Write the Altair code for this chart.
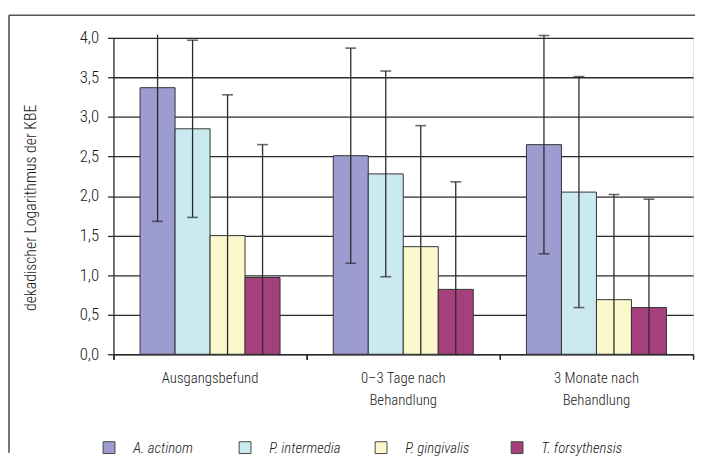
import altair as alt
import pandas as pd

categories = ["Ausgangsbefund", "0–3 Tage nach Behandlung", "3 Monate nach Behandlung"]
series = ["A. actinom", "P. intermedia", "P. gingivalis", "T. forsythensis"]
colors = ["#9c9cd0", "#cbeaf0", "#fbf8cc", "#a6407c"]

# mean values (log10 CFU) per category
mean_a_actinom = [3.37, 2.51, 2.65]
mean_p_intermedia = [2.85, 2.28, 2.05]
mean_p_gingivalis = [1.50, 1.36, 0.69]
mean_t_forsythensis = [0.97, 0.82, 0.59]

# standard deviations per category
sd_a_actinom = [1.69, 1.36, 1.38]
sd_p_intermedia = [1.12, 1.30, 1.46]
sd_p_gingivalis = [1.78, 1.53, 1.33]
sd_t_forsythensis = [1.68, 1.36, 1.37]

y_ticks = [0, 0.5, 1.0, 1.5, 2.0, 2.5, 3.0, 3.5, 4.0]
Y_MAX_VIS = 4.04

means = [mean_a_actinom, mean_p_intermedia, mean_p_gingivalis, mean_t_forsythensis]
sds = [sd_a_actinom, sd_p_intermedia, sd_p_gingivalis, sd_t_forsythensis]

rows = []
for s, m_list, sd_list in zip(series, means, sds):
    for c, m, sd in zip(categories, m_list, sd_list):
        lo = m - sd
        hi = m + sd
        rows.append({
            "category": c, "series": s, "mean": m,
            "lo": max(lo, 0.0), "hi": min(hi, Y_MAX_VIS),
            "cap_lo": lo > 0, "cap_hi": hi <= Y_MAX_VIS,
        })
df = pd.DataFrame(rows)

FONT = ("Roboto Condensed, Noto Sans Condensed, Open Sans Condensed, "
        "Liberation Sans Narrow, DejaVu Sans Condensed, sans-serif")
DARK = "#2a2a2a"
TXT = "#1a1a1a"

label_expr = ("indexof(datum.label, ' nach ') > 0 ? "
              "[replace(datum.label, ' Behandlung', ''), 'Behandlung'] : datum.label")

x_labels = alt.X(
    "category:N", sort=categories, title=None,
    scale=alt.Scale(paddingInner=0, paddingOuter=0),
    axis=alt.Axis(orient="bottom", labelAngle=0, ticks=False, domain=True,
                  domainColor=DARK, domainWidth=1.2, labelExpr=label_expr,
                  labelFont=FONT, labelFontSize=15, labelColor=TXT,
                  labelFontWeight=300,
                  labelPadding=17, labelLineHeight=22, grid=False),
)
x_ticks = alt.X(
    "category:N", sort=categories, title=None,
    scale=alt.Scale(paddingInner=0, paddingOuter=0),
    axis=alt.Axis(orient="bottom", labels=False, domain=False, ticks=True,
                  bandPosition=1, tickExtra=True, tickSize=5, tickColor=DARK,
                  tickWidth=1.2, grid=False),
)
x_off = alt.XOffset("series:N", sort=series,
                    scale=alt.Scale(paddingInner=0, paddingOuter=0.76))

y_enc = alt.Y(
    "mean:Q", title="dekadischer Logarithmus der KBE",
    scale=alt.Scale(domain=[0, 4], nice=False),
    axis=alt.Axis(values=y_ticks,
                  labelExpr="replace(format(datum.value, '.1f'), '.', ',')",
                  grid=True, gridColor=DARK, gridWidth=1.3,
                  tickSize=6, tickColor=DARK, tickWidth=1.3,
                  domainColor=DARK, domainWidth=1.3,
                  labelFont=FONT, labelFontSize=17, labelColor=TXT, labelPadding=9,
                  labelFontWeight=300,
                  titleFont=FONT, titleFontSize=16, titleFontWeight=300,
                  titleColor=TXT, titleAngle=-90, titleX=-84, titleY=172,
                  titleAlign="center", titleBaseline="middle"),
)

bars = alt.Chart(df).mark_bar(stroke="#333", strokeWidth=1).encode(
    x=x_labels, xOffset=x_off, y=y_enc,
    color=alt.Color(
        "series:N", sort=series,
        scale=alt.Scale(domain=series, range=colors),
        legend=alt.Legend(
            title=None, orient="none", legendX=-12, legendY=408,
            direction="horizontal", columns=4, symbolType="square",
            symbolSize=144, symbolStrokeColor="#444", symbolStrokeWidth=1,
            symbolOpacity=1, labelFont=FONT, labelFontSize=15,
            labelFontStyle="italic", labelFontWeight=300, labelColor=TXT,
            labelOffset=17, gridAlign="all", columnPadding=22,
        ),
    ),
)

err = alt.Chart(df).mark_rule(color=DARK, strokeWidth=1.3).encode(
    x=x_ticks, xOffset=x_off, y=alt.Y("lo:Q"), y2="hi:Q",
)
cap_hi = alt.Chart(df).transform_filter("datum.cap_hi").mark_tick(
    color=DARK, size=11, thickness=1.6).encode(x=x_ticks, xOffset=x_off, y="hi:Q")
cap_lo = alt.Chart(df).transform_filter("datum.cap_lo").mark_tick(
    color=DARK, size=11, thickness=1.6).encode(x=x_ticks, xOffset=x_off, y="lo:Q")

frame_df = pd.DataFrame({"k": [0]})
frame_top = alt.Chart(frame_df).mark_rule(color="#555", strokeWidth=1.6).encode(
    x=alt.value(-106), x2=alt.value(590), y=alt.value(-23))
frame_left = alt.Chart(frame_df).mark_rule(color="#555", strokeWidth=1.6).encode(
    x=alt.value(-106), y=alt.value(-23), y2=alt.value(421))

chart = alt.layer(bars, err, cap_hi, cap_lo, frame_top, frame_left).resolve_axis(
    x="independent"
).properties(
    width=588, height=321,
    padding={"left": 0, "top": 3, "right": 0, "bottom": 0},
).configure_view(stroke="#888", strokeWidth=1.2).configure(background="white")

chart.save("out.html", embed_options={"renderer": "svg", "actions": False})
